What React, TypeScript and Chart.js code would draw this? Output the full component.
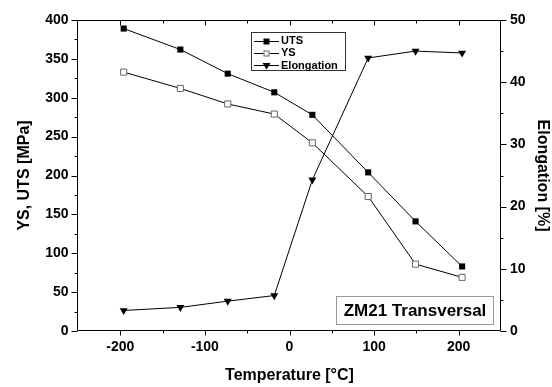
import React, { useEffect, useRef } from 'react';
import { Chart, registerables } from 'chart.js';

Chart.register(...registerables);

const temperatures = [-196, -129, -73, -18, 27, 93, 149, 204];
const utsValues = [389, 362, 331, 307, 278, 204, 141, 83];
const ysValues = [333, 312, 292, 279, 242, 173, 86, 69];
const elongationValues = [3.3, 3.8, 4.8, 5.7, 24.3, 43.9, 45.0, 44.7];
const seriesNames = ['UTS', 'YS', 'Elongation'];
const xTitle = 'Temperature [°C]';
const yTitle = 'YS, UTS [MPa]';
const y1Title = 'Elongation [%]';
const annotationText = 'ZM21 Transversal';

const FONT = '"Liberation Sans", Arial, Helvetica, sans-serif';

function drawMarker(ctx: CanvasRenderingContext2D, kind: number, x: number, y: number) {
  ctx.save();
  ctx.lineWidth = 1;
  if (kind === 0) {
    ctx.fillStyle = '#000';
    ctx.fillRect(x - 3, y - 3, 6, 6);
  } else if (kind === 1) {
    ctx.fillStyle = '#fff';
    ctx.strokeStyle = '#666';
    ctx.fillRect(x - 3, y - 3, 6, 6);
    ctx.strokeRect(x - 2.5, y - 2.5, 5, 5);
  } else {
    ctx.fillStyle = '#000';
    ctx.beginPath();
    ctx.moveTo(x - 4, y - 2.5);
    ctx.lineTo(x + 4, y - 2.5);
    ctx.lineTo(x, y + 4);
    ctx.closePath();
    ctx.fill();
  }
  ctx.restore();
}

const framePlugin = {
  id: 'frame',
  afterDraw(chart: any) {
    const { ctx, chartArea } = chart;
    const { left, right, top, bottom } = chartArea;
    const xs = chart.scales.x;
    const ys = chart.scales.y;
    const y1s = chart.scales.y1;
    const L = left - 0.5;
    const R = right - 0.5;
    const T = top + 0.5;
    const B = bottom - 0.5;
    ctx.save();
    ctx.strokeStyle = '#000';
    ctx.lineWidth = 1;
    ctx.beginPath();
    ctx.moveTo(L, T);
    ctx.lineTo(R, T);
    ctx.lineTo(R, B);
    ctx.lineTo(L, B);
    ctx.closePath();
    ctx.stroke();

    ctx.beginPath();
    xs.ticks.forEach((t: any) => {
      const v = t.value;
      if (v <= xs.min || v >= xs.max) return;
      const px = Math.round(xs.getPixelForValue(v)) + 0.5;
      const len = v % 100 === 0 ? 5 : 3;
      ctx.moveTo(px, B);
      ctx.lineTo(px, B + len);
      ctx.moveTo(px, T);
      ctx.lineTo(px, T + len);
    });
    ys.ticks.forEach((t: any) => {
      const v = t.value;
      const py = Math.round(ys.getPixelForValue(v)) + 0.5;
      const len = v % 50 === 0 ? 6 : 3;
      ctx.moveTo(L, py);
      ctx.lineTo(L - len, py);
    });
    y1s.ticks.forEach((t: any) => {
      const v = t.value;
      const py = Math.round(y1s.getPixelForValue(v)) + 0.5;
      const len = v % 10 === 0 ? 6 : 3;
      ctx.moveTo(R, py);
      ctx.lineTo(R + len, py);
    });
    ctx.stroke();

    // legend
    const lx = 251.5, ly = 32.5, lw = 94, lh = 38;
    ctx.fillStyle = '#fff';
    ctx.fillRect(lx, ly, lw, lh);
    ctx.strokeStyle = '#333';
    ctx.strokeRect(lx, ly, lw, lh);
    ctx.font = `bold 11px ${FONT}`;
    ctx.textBaseline = 'middle';
    ctx.textAlign = 'left';
    seriesNames.forEach((name, i) => {
      const ry = 40.5 + i * 12.3;
      ctx.strokeStyle = '#000';
      ctx.beginPath();
      ctx.moveTo(254, Math.round(ry) + 0.5);
      ctx.lineTo(279, Math.round(ry) + 0.5);
      ctx.stroke();
      drawMarker(ctx, i, 266.5, Math.round(ry) + 0.5);
      ctx.fillStyle = '#000';
      ctx.fillText(name, 281, ry + 0.5);
    });

    // annotation box
    const ax = 336.5, ay = 296.5, aw = 157, ah = 28;
    ctx.fillStyle = '#fff';
    ctx.fillRect(ax, ay, aw, ah);
    ctx.strokeStyle = '#999';
    ctx.strokeRect(ax, ay, aw, ah);
    ctx.fillStyle = '#000';
    ctx.font = `bold 17px ${FONT}`;
    ctx.textAlign = 'center';
    ctx.textBaseline = 'middle';
    ctx.fillText(annotationText, ax + aw / 2, ay + ah / 2 + 1);
    ctx.restore();
  },
};

export default function App() {
  const canvasRef = useRef<HTMLCanvasElement | null>(null);

  useEffect(() => {
    document.body.style.margin = '0';
    const canvas = canvasRef.current;
    if (!canvas) return;
    const tickFont = { family: FONT, size: 14, weight: 'bold' as const };
    const titleFont = { family: FONT, size: 16, weight: 'bold' as const };
    const chart = new Chart(canvas, {
      type: 'line',
      data: {
        datasets: [
          {
            label: seriesNames[0],
            data: temperatures.map((t, i) => ({ x: t, y: utsValues[i] })),
            yAxisID: 'y',
            borderColor: '#000',
            borderWidth: 1,
            backgroundColor: '#000',
            pointStyle: 'rect',
            pointRadius: 4.3,
            pointBackgroundColor: '#000',
            pointBorderColor: '#000',
            pointBorderWidth: 0,
            tension: 0,
          },
          {
            label: seriesNames[1],
            data: temperatures.map((t, i) => ({ x: t, y: ysValues[i] })),
            yAxisID: 'y',
            borderColor: '#000',
            borderWidth: 1,
            backgroundColor: '#fff',
            pointStyle: 'rect',
            pointRadius: 4.3,
            pointBackgroundColor: '#fff',
            pointBorderColor: '#666',
            pointBorderWidth: 1,
            tension: 0,
          },
          {
            label: seriesNames[2],
            data: temperatures.map((t, i) => ({ x: t, y: elongationValues[i] })),
            yAxisID: 'y1',
            borderColor: '#000',
            borderWidth: 1,
            backgroundColor: '#000',
            pointStyle: 'triangle',
            pointRotation: 180,
            pointRadius: 4.6,
            pointBackgroundColor: '#000',
            pointBorderColor: '#000',
            pointBorderWidth: 0,
            tension: 0,
          },
        ],
      },
      options: {
        responsive: false,
        animation: false,
        layout: { padding: { top: 20, left: 0, right: 0, bottom: 0 } },
        plugins: {
          legend: { display: false },
          tooltip: { enabled: false },
        },
        scales: {
          x: {
            type: 'linear',
            position: 'bottom',
            min: -250,
            max: 250,
            grid: { display: false, drawTicks: false, tickLength: 0 },
            border: { display: false },
            ticks: {
              stepSize: 50,
              autoSkip: false,
              maxRotation: 0,
              padding: 8,
              color: '#000',
              font: tickFont,
              callback: (v: any) => (Number(v) % 100 === 0 ? String(v) : ''),
            },
            title: {
              display: true,
              text: xTitle,
              color: '#000',
              font: titleFont,
              padding: { top: 0, bottom: 2 },
            },
            afterFit: (scale: any) => {
              scale.height = 56;
            },
          },
          y: {
            type: 'linear',
            position: 'left',
            min: 0,
            max: 400,
            grid: { display: false, drawTicks: false, tickLength: 0 },
            border: { display: false },
            ticks: {
              stepSize: 25,
              autoSkip: false,
              padding: 9.5,
              color: '#000',
              font: tickFont,
              callback: (v: any) => (Number(v) % 50 === 0 ? String(v) : ''),
            },
            title: {
              display: true,
              text: yTitle,
              color: '#000',
              font: titleFont,
              padding: { top: 15, bottom: 0 },
            },
            afterFit: (scale: any) => {
              scale.width = 78;
            },
          },
          y1: {
            type: 'linear',
            position: 'right',
            min: 0,
            max: 50,
            grid: { display: false, drawTicks: false, tickLength: 0 },
            border: { display: false },
            ticks: {
              stepSize: 5,
              autoSkip: false,
              padding: 9,
              color: '#000',
              font: tickFont,
              callback: (v: any) => (Number(v) % 10 === 0 ? String(v) : ''),
            },
            title: {
              display: true,
              text: y1Title,
              color: '#000',
              font: titleFont,
              padding: { top: 0, bottom: 0 },
            },
            afterFit: (scale: any) => {
              scale.width = 51;
            },
          },
        },
      },
      plugins: [framePlugin],
    });
    return () => {
      chart.destroy();
    };
  }, []);

  return (
    <div style={{ width: 552, height: 387, position: 'relative', background: '#fff' }}>
      <canvas ref={canvasRef} width={552} height={387} />
    </div>
  );
}
